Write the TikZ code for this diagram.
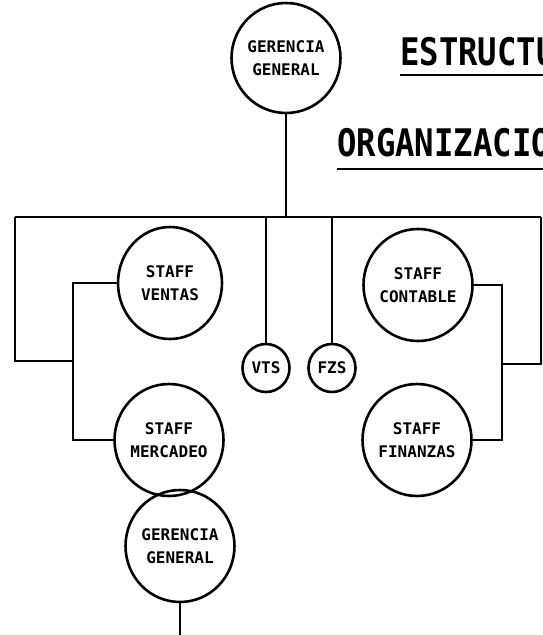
\documentclass[tikz,border=0pt]{standalone}
\usepackage{fontspec}
\newfontfamily\dotfont{DejaVu Sans Mono}
\usetikzlibrary{shapes.geometric}
\begin{document}
\begin{tikzpicture}[x=1pt,y=-1pt,
  org/.style={ellipse,draw,line width=2.6pt,inner sep=0pt,align=center,
    font=\dotfont\bfseries\fontsize{16}{23}\selectfont},
  big/.style={org,minimum width=104pt,minimum height=112pt},
  small/.style={org,minimum width=47pt,minimum height=48pt},
  link/.style={line width=1.8pt},
  title/.style={anchor=base west,inner sep=0pt,
    font=\dotfont\bfseries\fontsize{38}{38}\selectfont},
  uline/.style={line width=1.8pt}]
\useasboundingbox (0,0) rectangle (542,635);
% titles
\node[title] (t1) at (400,65) {\scalebox{0.85}[1]{ESTRUCTU}};
\node[title] (t2) at (337,156) {\scalebox{0.85}[1]{ORGANIZACIO}};
\draw[uline] ([yshift=-10pt]t1.base west) -- ([yshift=-10pt]t1.base east);
\draw[uline] ([yshift=-13pt]t2.base west) -- ([yshift=-13pt]t2.base east);
% nodes
\node[big,minimum width=102pt,minimum height=110pt] (gg) at (286,58) {GERENCIA\\GENERAL};
\node[big] (ventas) at (170,283) {STAFF\\VENTAS};
\node[big] (mercadeo) at (169,440) {STAFF\\MERCADEO};
\node[big,minimum height=112pt] (gg2) at (180,546) {GERENCIA\\GENERAL};
\node[big] (contable) at (418,285) {STAFF\\CONTABLE};
\node[big] (finanzas) at (417,440) {STAFF\\FINANZAS};
\node[small] (vts) at (266,368) {VTS};
\node[small] (fzs) at (332,368) {FZS};
% coordinates
\coordinate (busL) at (15,217);
\coordinate (busR) at (541,217);
\coordinate (lx) at (73,0);
\coordinate (rx) at (502,0);
\coordinate (lo) at (73,361);
\coordinate (ro) at (502,364);
\coordinate (tail) at (180,640);
% connectors
\draw[link] (gg.south) -- (gg.south |- busL);
\draw[link] (busL) -- (busR);
\draw[link] (busL) -- (busL |- lo) -- (lo);
\draw[link] (busR) -- (busR |- ro) -- (ro);
\draw[link] (ventas.west) -- (ventas.west -| lx) -- (mercadeo.west -| lx) -- (mercadeo.west);
\draw[link] (contable.east) -- (contable.east -| rx) -- (finanzas.east -| rx) -- (finanzas.east);
\draw[link] (vts.north) -- (vts.north |- busL);
\draw[link] (fzs.north) -- (fzs.north |- busL);
\draw[link] (gg2.south) -- (tail);
\end{tikzpicture}
\end{document}
